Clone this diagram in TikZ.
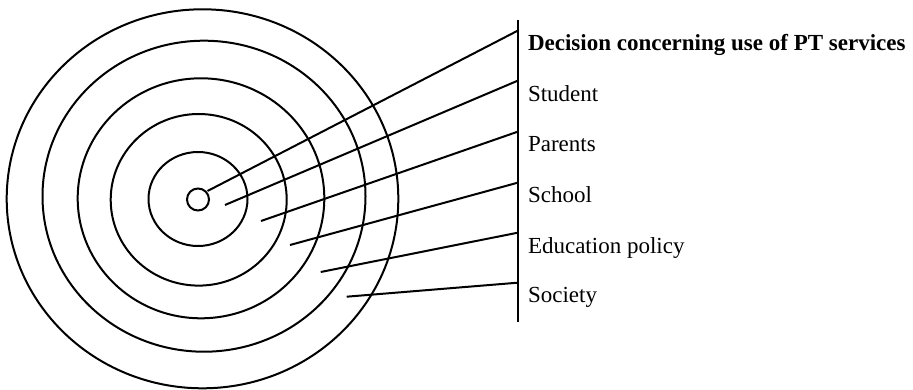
\documentclass[tikz,border=0pt]{standalone}
\usepackage{fontspec}
\setmainfont{Liberation Serif}
\begin{document}
\begin{tikzpicture}[x=1pt,y=-1pt,line width=2pt]
    \useasboundingbox (0,0) rectangle (913,390);
    \tikzset{label/.style={anchor=base west, inner sep=0pt, font=\fontsize{23}{27}\selectfont}}

    % rings, inside out
    \draw (198,199.5) circle [radius=11];
    \draw (198,199) ellipse [x radius=49.5, y radius=47];
    \draw (198.7,199.8) ellipse [x radius=88, y radius=85.8];
    \draw (201,198.3) ellipse [x radius=123.3, y radius=120];
    \draw (204,196.2) ellipse [x radius=161.5, y radius=155.5];
    \draw (202.5,198.8) ellipse [x radius=195.8, y radius=189.5];

    % starts of the pointers
    \coordinate (S1) at (207.5,191);
    \coordinate (S2) at (225,205);
    \coordinate (S3) at (261,221);
    \coordinate (S4) at (290,245);
    \coordinate (S5) at (320.7,272);
    \coordinate (S6) at (346.7,296.7);

    % bar and ends of the pointers
    \foreach \i/\ya/\yb in {1/20/70, 2/70/121, 3/121/172, 4/172/222, 5/222/272, 6/272/322} {
        \coordinate (T\i) at (517.7,\ya);
        \coordinate (B\i) at (517.7,\yb);
        \coordinate (E\i) at (517.7,\ya+10.7);
        \draw (T\i) -- (B\i);
    }

    % labels
    \node[label] (L1) at (527,50.7) {\textbf{Decision concerning use of PT services}};
    \node[label] (L2) at (527,101.3) {Student};
    \node[label] (L3) at (527,151.9) {Parents};
    \node[label] (L4) at (527,202.5) {School};
    \node[label] (L5) at (527,253.6) {Education policy};
    \node[label] (L6) at (527,302.7) {Society};

    \foreach \i in {1,...,6} \draw (S\i) -- (E\i);
\end{tikzpicture}
\end{document}
